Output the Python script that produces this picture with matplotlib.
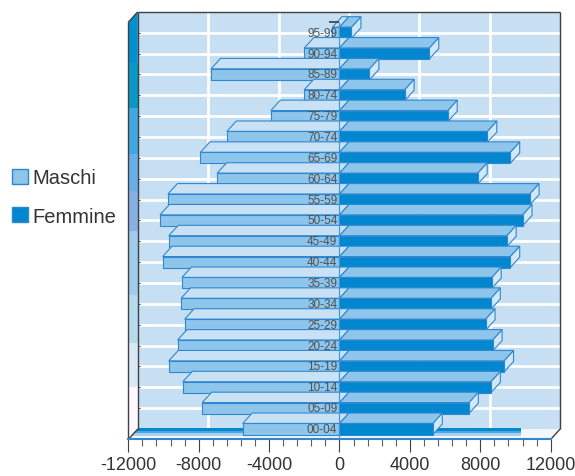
import matplotlib.pyplot as plt
from matplotlib.patches import Polygon, Patch
from matplotlib.ticker import MultipleLocator

plt.rcParams["axes.unicode_minus"] = False
plt.rcParams["font.family"] = ["Liberation Sans", "DejaVu Sans"]

eta = ["00-04", "05-09", "10-14", "15-19", "20-24", "25-29", "30-34", "35-39",
       "40-44", "45-49", "50-54", "55-59", "60-64", "65-69", "70-74", "75-79",
       "80-74", "85-89", "90-94", "95-99"]
maschi = [5500, 7800, 8900, 9700, 9200, 8800, 9000, 8950, 10050, 9700,
          10200, 9750, 6950, 7900, 6400, 3900, 2000, 7300, 2000, 400]
femmine = [5300, 7350, 8600, 9350, 8700, 8300, 8600, 8650, 9700, 9500,
           10400, 10800, 7850, 9700, 8400, 6150, 3700, 1700, 5100, 680]

XMIN, XMAX = -12000, 12000
YMIN, YMAX = -0.5, len(eta) - 0.5
DX, DY = 540, 0.5      # depth of the fake 3d, in data units
H = 0.265              # half height of a bar

C_WALL = "#C6DFF2"
C_EDGE = "#2F87CF"
C_M_FRONT = "#8EC5EB"
C_M_TOP = "#C9E1F4"
C_F_FRONT = "#0087CF"
C_F_TOP = "#8EC5EB"
C_F_SIDE = "#D2E7F7"
C_FRAME = "#404040"

fig = plt.figure(figsize=(5.75, 4.77), dpi=100)
ax = fig.add_axes([0.2231, 0.0767, 0.7346, 0.8746])
ax.set_xlim(XMIN, XMAX)
ax.set_ylim(YMIN, YMAX)


def poly(pts, fc, ec="none", z=1, lw=0.8):
    ax.add_patch(Polygon(pts, closed=True, facecolor=fc, edgecolor=ec,
                         linewidth=lw, zorder=z, clip_on=False))


def line(xs, ys, color=C_FRAME, lw=1.0, z=50):
    ax.plot(xs, ys, color=color, lw=lw, zorder=z, clip_on=False,
            solid_capstyle="butt")


# back wall + grid
poly([(XMIN + DX, YMIN + DY), (XMAX + DX, YMIN + DY),
      (XMAX + DX, YMAX + DY), (XMIN + DX, YMAX + DY)], C_WALL, z=1)
for k in range(1, len(eta)):
    y = k - 0.5 + DY
    line([XMIN + DX, XMAX + DX], [y, y], color="white", lw=2, z=2)
    line([XMIN + DX, XMIN + DX + 120], [y, y], color=C_FRAME, lw=0.8, z=3)
for x in range(-8000, 8001, 4000):
    line([x + DX, x + DX], [YMIN + DY, YMAX + DY], color="white", lw=2, z=2)

# floor
poly([(XMIN, YMIN), (XMAX, YMIN), (XMAX + DX, YMIN + DY),
      (XMIN + DX, YMIN + DY)], "#F2F7FC", z=2)
for y0, y1, c in [(0.05, -0.08, "#0088CC"), (-0.08, -0.19, "#4FA6DE"),
                  (-0.19, -0.34, "#A8D0EE")]:
    xl0 = XMIN + DX * (y0 - YMIN) / DY
    xl1 = XMIN + DX * (y1 - YMIN) / DY
    poly([(xl0, y0), (10300, y0), (10300, y1), (xl1, y1)], c, z=3)

# left wall, banded
bands = [(19.5, 17.5, "#0090D0"), (17.5, 15.4, "#0898C8"),
         (15.4, 13.2, "#40A8E0"), (13.2, 11.4, "#68AEE8"),
         (11.4, 9.5, "#88B0E4"), (9.5, 6.4, "#A0CCEC"),
         (6.4, 4.1, "#B4DAEC"), (4.1, 2.0, "#D8E8F4"),
         (2.0, -0.5, "#FFF8FF")]
for top, bot, c in bands:
    t2 = top + DY if top == YMAX else top
    b2 = bot + DY if bot == YMIN else bot
    poly([(XMIN, bot), (XMIN + DX, b2), (XMIN + DX, t2), (XMIN, top)], c, z=4)


def box(x0, x1, c, front, top, side, z):
    poly([(x1, c - H), (x1 + DX, c - H + DY), (x1 + DX, c + H + DY),
          (x1, c + H)], side, C_EDGE, z)
    poly([(x0, c + H), (x1, c + H), (x1 + DX, c + H + DY),
          (x0 + DX, c + H + DY)], top, C_EDGE, z)
    poly([(x0, c - H), (x1, c - H), (x1, c + H), (x0, c + H)],
         front, C_EDGE, z)


# bars, back rows first
for i in reversed(range(len(eta))):
    z = 10 + (len(eta) - i) * 0.1
    box(-maschi[i], 0, i, C_M_FRONT, C_M_TOP, C_M_TOP, z)
    box(0, femmine[i], i, C_F_FRONT, C_F_TOP, C_F_SIDE, z + 0.05)

line([0, 0], [YMIN, YMAX], color="#3C96D8", lw=0.8, z=20)
line([-600, 0], [YMAX, YMAX], color=C_FRAME, lw=1.2, z=20)

for i, lab in enumerate(eta):
    ax.text(-120, i, lab, ha="right", va="center", fontsize=8.5,
            color="#505050", zorder=30)

# frame
line([XMIN, XMIN], [YMIN, YMAX])
line([XMIN, XMIN + DX], [YMAX, YMAX + DY])
line([XMIN + DX, XMAX + DX], [YMAX + DY, YMAX + DY])
line([XMAX + DX, XMAX + DX], [YMAX + DY, YMIN + DY])
line([XMAX + DX, XMAX], [YMIN + DY, YMIN])
line([XMIN + DX, XMIN + DX], [YMIN + DY, YMAX + DY])
line([XMIN, XMIN + DX], [YMIN, YMIN + DY])

for s in ["left", "right", "top"]:
    ax.spines[s].set_visible(False)
ax.spines["bottom"].set_color(C_EDGE)
ax.spines["bottom"].set_linewidth(1.5)
ax.spines["bottom"].set_zorder(60)
ax.set_yticks([])
ax.xaxis.set_major_locator(MultipleLocator(4000))
ax.xaxis.set_minor_locator(MultipleLocator(800))
ax.tick_params(axis="x", which="major", length=9, width=0.8,
               color=C_FRAME, labelsize=13, labelcolor="#333333", pad=3)
ax.tick_params(axis="x", which="minor", length=5, width=0.8, color="#606060")
ax.patch.set_visible(False)

fig.legend(handles=[Patch(facecolor=C_M_FRONT, edgecolor=C_EDGE),
                    Patch(facecolor=C_F_FRONT, edgecolor=C_EDGE)],
           labels=["Maschi", "Femmine"], loc="center left",
           bbox_to_anchor=(-0.01, 0.585), frameon=False, fontsize=14.5,
           handlelength=0.8, handleheight=0.8, handletextpad=0.2,
           labelspacing=0.95, labelcolor="#333333")

fig.savefig("out.png", dpi=100)
